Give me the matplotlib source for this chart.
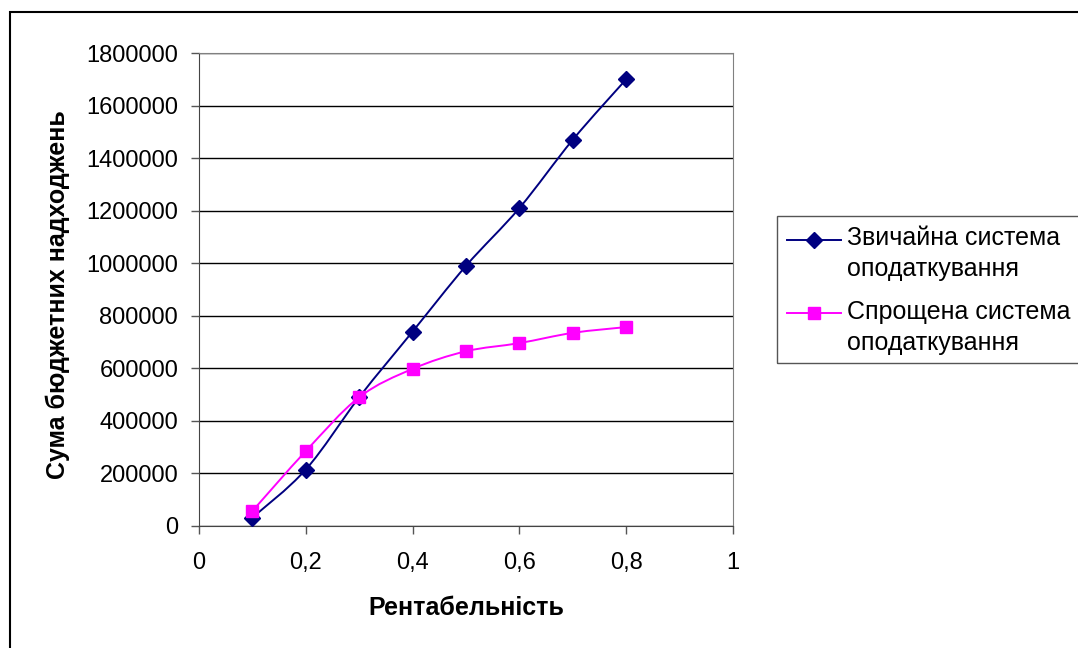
import numpy as np
import matplotlib.pyplot as plt
from matplotlib.path import Path
from matplotlib.patches import PathPatch, Rectangle
from matplotlib.lines import Line2D

plt.rcParams['font.family'] = ['Liberation Sans', 'DejaVu Sans']

# profitability levels
x = [0.1, 0.2, 0.3, 0.4, 0.5, 0.6, 0.7, 0.8]
# budget revenues, ordinary tax system
regular = [32000, 215000, 490000, 740000, 990000, 1210000, 1470000, 1700000]
# budget revenues, simplified tax system
simple = [57000, 285000, 490000, 598000, 665000, 696000, 735000, 757000]

xticks = [0, 0.2, 0.4, 0.6, 0.8, 1]
xticklabels = ['0', '0,2', '0,4', '0,6', '0,8', '1']
yticks = list(range(0, 1800001, 200000))

labels = [['Звичайна система', 'оподаткування'], ['Спрощена система', 'оподаткування']]
colors = ['#000080', '#FF00FF']
markers = ['D', 's']
msizes = [8.5, 8.5]


def smooth_path(xs, ys):
    # Excel-like smoothed line: cubic Bezier through the points
    p = np.column_stack([xs, ys]).astype(float)
    pts = [p[0]]
    codes = [Path.MOVETO]
    n = len(p)
    for i in range(n - 1):
        p0 = p[i - 1] if i > 0 else p[i]
        p3 = p[i + 2] if i + 2 < n else p[i + 1]
        c1 = p[i] + (p[i + 1] - p0) / 6
        c2 = p[i + 1] - (p3 - p[i]) / 6
        pts += [c1, c2, p[i + 1]]
        codes += [Path.CURVE4] * 3
    return Path(pts, codes)


W, H = 1078, 648
fig = plt.figure(figsize=(W / 100, H / 100), dpi=100)
ax = fig.add_axes([199 / W, 1 - 526 / H, (733 - 199) / W, (526 - 53) / H])

for ys, c, m, ms in zip([regular, simple], colors, markers, msizes):
    ax.add_patch(PathPatch(smooth_path(x, ys), fill=False, edgecolor=c, lw=1.4, zorder=3))
    ax.plot(x, ys, linestyle='none', marker=m, color=c, markersize=ms, zorder=4, clip_on=False)

ax.set_xlim(0, 1)
ax.set_ylim(0, 1800000)
ax.set_xticks(xticks)
ax.set_xticklabels(xticklabels)
ax.set_yticks(yticks)
ax.set_yticklabels([str(v) for v in yticks])
ax.yaxis.grid(True, color='black', lw=1)
ax.set_axisbelow(True)
ax.tick_params(direction='out', length=6, width=1, labelsize=17, color='#555555')
ax.tick_params(axis='x', pad=13)
ax.tick_params(axis='y', pad=9)
for s in ['top', 'right']:
    ax.spines[s].set_color('#808080')
for s in ['left', 'bottom']:
    ax.spines[s].set_color('#444444')

ax.set_xlabel('Рентабельність', fontsize=18, fontweight='bold')
ax.set_ylabel('Сума бюджетних надходжень', fontsize=18, fontweight='bold')
ax.xaxis.set_label_coords(0.5, (526 - 608) / 473)
ax.xaxis.label.set_va('center')
ax.yaxis.set_label_coords((58 - 199) / 534, (526 - 295) / 473)
ax.yaxis.label.set_va('center')

# legend box, drawn by hand so the handle sits on the first text line
fig.patches.append(Rectangle((777 / W, 1 - 363 / H), 0.4, (363 - 216) / H,
                             transform=fig.transFigure, fill=False,
                             edgecolor='#555555', lw=1))
handle_y = [240, 313]
text_y = [(245, 276), (319, 350)]
for c, m, ms, hy, (t1, t2), (l1, l2) in zip(colors, markers, msizes, handle_y, text_y, labels):
    fig.add_artist(Line2D([787 / W, 841 / W], [1 - hy / H, 1 - hy / H], color=c, lw=1.4,
                          transform=fig.transFigure))
    fig.add_artist(Line2D([814 / W], [1 - hy / H], color=c, marker=m, markersize=ms,
                          linestyle='none', transform=fig.transFigure))
    fig.text(847 / W, 1 - t1 / H, l1, fontsize=18, va='baseline')
    fig.text(847 / W, 1 - t2 / H, l2, fontsize=18, va='baseline')

# outer chart frame
fig.patches.append(Rectangle((10 / W, -0.01), 1.1, 1 - 12 / H + 0.01,
                             transform=fig.transFigure, fill=False,
                             edgecolor='black', lw=1.5))

fig.savefig('out.png', dpi=100)
